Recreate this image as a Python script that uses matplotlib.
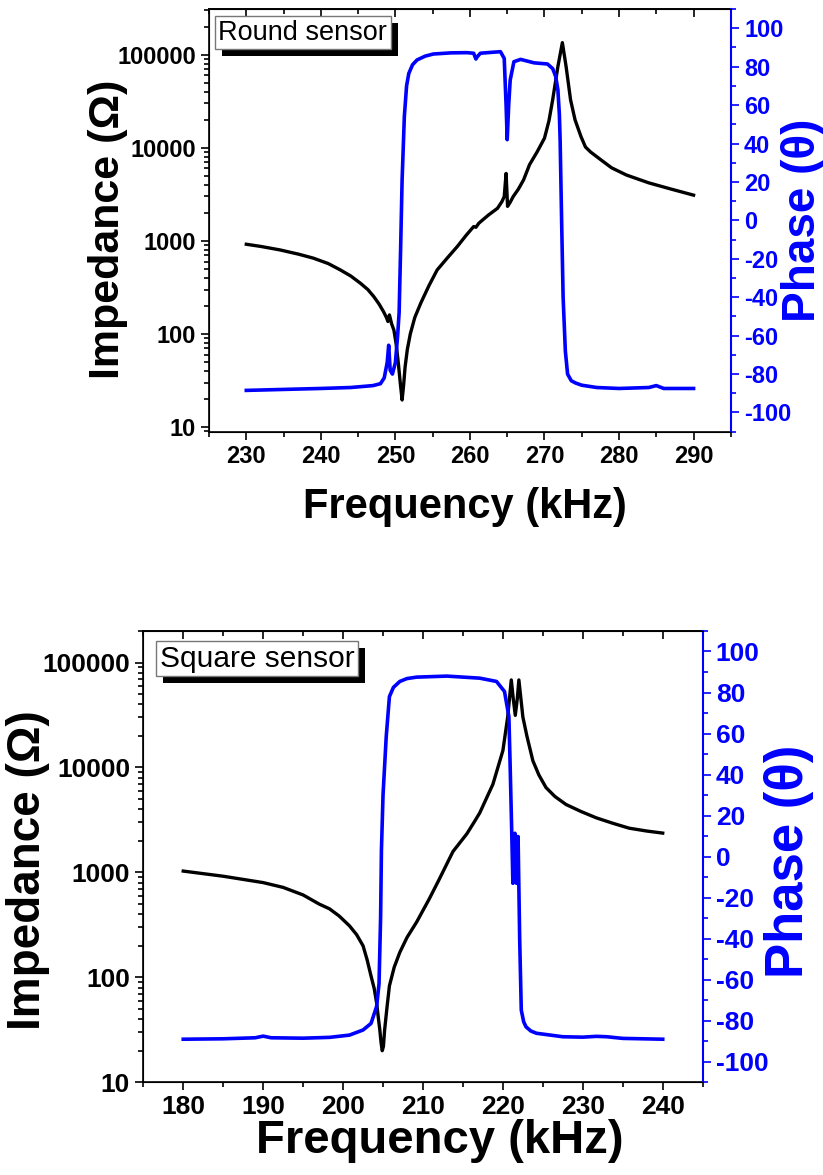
import matplotlib
matplotlib.use("Agg")
import matplotlib.pyplot as plt
from matplotlib.ticker import FixedLocator, FuncFormatter, MultipleLocator, LogLocator, NullFormatter
from matplotlib.patheffects import withSimplePatchShadow

plt.rcParams['font.family'] = ['Liberation Sans', 'DejaVu Sans']
plt.rcParams['axes.unicode_minus'] = False

# ---- round sensor ----
round_f_z = [230, 232, 234.5, 237, 239, 241, 242.6, 244, 245.3, 246.3, 247.1, 247.8, 248.4, 248.8,
             249.0, 249.2, 249.5, 249.8, 250.1, 250.4, 250.65, 250.9, 251.1, 251.3, 251.6, 252.0,
             252.6, 253.4, 254.5, 255.6, 257, 258.3, 259.5, 260.5, 260.8, 261.2, 262.5, 263.7,
             264.3, 264.6, 264.85, 265.05, 265.4, 265.8, 266.5, 267.2, 268, 269, 270, 270.6, 271.1,
             271.8, 272.4, 272.9, 273.5, 274.1, 274.9, 275.5, 276.2, 277.6, 279, 281, 284, 287, 290]
round_z = [920, 870, 800, 720, 652, 570, 488, 420, 351, 300, 252, 210, 174, 150,
           136, 160, 128, 110, 78, 48, 30, 19.5, 28, 44, 68, 100,
           150, 214, 330, 487, 660, 869, 1150, 1425, 1400, 1550, 1900, 2240,
           2650, 2990, 5300, 2350, 2600, 2990, 3600, 4530, 6600, 9000, 12700, 19500, 32800,
           74800, 135000, 74800, 32800, 20000, 13200, 10200, 9000, 7400, 6100, 5100, 4200, 3600, 3100]
round_f_p = [230, 235, 240, 244, 247, 248, 248.5, 248.9, 249.1, 249.3, 249.6, 250.0, 250.3, 250.5,
             250.7, 250.9, 251.2, 251.5, 251.8, 252.3, 252.9, 254, 255.1, 257.5, 259.6, 260.5, 260.8,
             260.95, 261.4, 263, 264.1, 264.6, 264.85, 265.0, 265.2, 265.4, 265.9, 266.8, 268.6,
             270.4, 271.1, 271.5, 271.8, 272.0, 272.1, 272.3, 272.5, 272.8, 273.1, 273.6, 274.2,
             275, 277, 280, 284, 285, 286, 290]
round_p = [-88.5, -88, -87.5, -87, -86, -85, -82, -74, -65, -78, -80, -74, -60, -48,
           -15, 21, 54, 70, 76.5, 81, 83.5, 85.5, 86.6, 87.2, 87.3, 87, 84,
           85, 87, 87.5, 87.8, 84.3, 60, 42, 60, 73, 82.6, 83.8, 82,
           81.4, 79, 75, 68, 55, 41.9, 0, -40, -68, -80, -83.5, -84.7,
           -85.8, -87, -87.5, -87, -86, -87.5, -87.5]

# ---- square sensor ----
square_f_z = [180, 185, 190, 192.5, 195, 197, 198.3, 199.5, 200.8, 201.7, 202.5, 203, 203.5, 203.9,
              204.2, 204.4, 204.6, 204.75, 204.9, 205.05, 205.2, 205.5, 205.8, 206.4, 207.1, 208,
              209.2, 210.8, 212, 213.75, 215.5, 216.5, 217.1, 218.75, 220.0, 220.6, 221.05, 221.3,
              221.55, 221.8, 222.0, 222.5, 223.0, 223.75, 224.5, 225.4, 226.5, 227.9, 229.8, 231.7,
              233.7, 235.8, 238, 240]
square_z = [1030, 920, 800, 720, 610, 500, 450, 385, 310, 255, 200, 148, 103, 78,
            57, 42, 31.5, 24, 20, 22, 31.5, 52, 83, 125, 173, 240,
            336, 562, 850, 1580, 2340, 3100, 3690, 6920, 14500, 30300, 68300, 45000,
            31400, 45000, 68300, 30300, 20000, 11600, 8500, 6430, 5300, 4440, 3800, 3310,
            2950, 2640, 2480, 2370]
square_f_p = [180, 185, 189, 190, 191, 195, 198.3, 200.8, 202.5, 203.5, 204.2, 204.5, 204.7, 204.8,
              205.0, 205.4, 205.8, 206.3, 207.1, 208, 209.2, 213, 217.1, 219.2, 220.2, 220.75, 220.9,
              221.1, 221.25, 221.4, 221.5, 221.6, 221.7, 221.8, 221.9, 222.1, 222.3, 222.6, 222.9,
              223.5, 224.2, 227.5, 230, 231.7, 233, 235, 240]
square_p = [-89, -88.8, -88.3, -87.5, -88.3, -88.5, -88.1, -87, -84.5, -81.3, -73, -62, -29, 3,
            30, 58.5, 78, 82.5, 85.4, 86.8, 87.5, 88, 87, 85.4, 80.5, 68.3, 45.6,
            13, -13, 5, 11.4, -5, -13, 3, 9.8, -40, -74.8, -80.5, -83,
            -85, -86.1, -87.8, -88, -87.6, -87.8, -88.6, -89]

x_ticks_round = [230, 240, 250, 260, 270, 280, 290]
x_ticks_square = [180, 190, 200, 210, 220, 230, 240]
z_ticks = [10, 100, 1000, 10000, 100000]
phase_ticks = [-100, -80, -60, -40, -20, 0, 20, 40, 60, 80, 100]

BLUE = '#0000ff'


def draw_panel(rect, fz, z, fp, p, xlim, ylim, xticks, label, lab_pos, sizes):
    tick_fs, xlab_fs, ylab_fs, phase_fs, box_fs = sizes
    ax = fig.add_axes(rect)
    ax.plot(fz, z, color='black', lw=2.4)
    ax.set_yscale('log')
    ax.set_xlim(xlim)
    ax.set_ylim(ylim)
    ax.xaxis.set_major_locator(FixedLocator(xticks))
    ax.xaxis.set_minor_locator(MultipleLocator(5))
    ax.yaxis.set_major_locator(FixedLocator(z_ticks))
    ax.yaxis.set_major_formatter(FuncFormatter(lambda v, pos: '%d' % round(v)))
    ax.yaxis.set_minor_locator(LogLocator(base=10, subs=range(2, 10)))
    ax.yaxis.set_minor_formatter(NullFormatter())
    ax.tick_params(which='both', direction='out', width=1.2, labelsize=tick_fs, right=False, top=False)
    ax.tick_params(which='major', length=6)
    ax.tick_params(which='minor', length=3.5)
    for lab in ax.get_xticklabels() + ax.get_yticklabels():
        lab.set_fontweight('bold')
    for s in ax.spines.values():
        s.set_linewidth(1.2)

    # inward ticks on the top spine
    top = ax.secondary_xaxis('top')
    top.xaxis.set_major_locator(FixedLocator(xticks))
    top.xaxis.set_minor_locator(MultipleLocator(5))
    top.tick_params(which='both', direction='in', width=1.2, labeltop=False)
    top.tick_params(which='major', length=6)
    top.tick_params(which='minor', length=3.5)
    top.spines['top'].set_linewidth(1.2)

    ax.set_xlabel('Frequency (kHz)', fontsize=xlab_fs, fontweight='bold')
    ax.set_ylabel('Impedance (\u03a9)', fontsize=ylab_fs, fontweight='bold')
    ax.xaxis.set_label_coords(lab_pos[0], lab_pos[1])
    ax.yaxis.set_label_coords(lab_pos[2], lab_pos[3])

    ax2 = ax.twinx()
    ax2.plot(fp, p, color=BLUE, lw=2.6)
    ax2.set_ylim(-110, 110)
    ax2.yaxis.set_major_locator(FixedLocator(phase_ticks))
    ax2.yaxis.set_minor_locator(MultipleLocator(10))
    ax2.tick_params(which='both', direction='out', width=1.2, colors=BLUE, labelsize=tick_fs)
    ax2.tick_params(which='major', length=6)
    ax2.tick_params(which='minor', length=3.5)
    for lab in ax2.get_yticklabels():
        lab.set_fontweight('bold')
    ax2.spines['right'].set_color(BLUE)
    ax2.spines['right'].set_linewidth(1.5)
    ax2.set_ylabel('Phase (\u03b8)', fontsize=phase_fs, fontweight='bold', color=BLUE)
    ax2.yaxis.set_label_coords(lab_pos[4], lab_pos[5])

    t = ax2.text(lab_pos[6], lab_pos[7], label, transform=ax2.transAxes, fontsize=box_fs,
                 ha='left', va='top', zorder=10,
                 bbox=dict(boxstyle='square,pad=0.12', facecolor='white', edgecolor='#777777', lw=1.0))
    t.get_bbox_patch().set_path_effects([withSimplePatchShadow(offset=(5, -5), shadow_rgbFace='black', alpha=1.0)])
    return ax, ax2


fig = plt.figure(figsize=(8.23, 11.75), dpi=100)

draw_panel([0.254, 0.6326, 0.634, 0.3597], round_f_z, round_z, round_f_p, round_p,
           (225, 295), (8.9, 3.1e5), x_ticks_round, 'Round sensor',
           (0.49, -0.13, -0.155, 0.48, 1.096, 0.5, 0.018, 0.975),
           (17, 30, 31, 33, 19.5))
draw_panel([0.1741, 0.0789, 0.6797, 0.3841], square_f_z, square_z, square_f_p, square_p,
           (175, 245), (10, 2.0e5), x_ticks_square, 'Square sensor',
           (0.53, -0.082, -0.167, 0.47, 1.11, 0.49, 0.03, 0.97),
           (19, 34, 33, 38, 21.5))

fig.savefig('out.png', dpi=100)
